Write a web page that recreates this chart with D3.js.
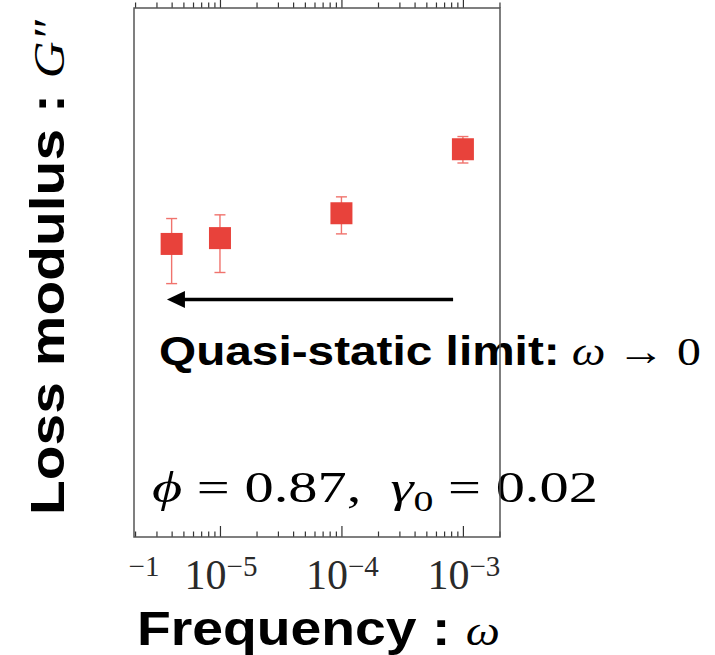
<!DOCTYPE html>
<html>
<head>
<meta charset="utf-8">
<script src="https://cdn.jsdelivr.net/npm/d3@7"></script>
<style>
  body { margin: 0; background: #fff; }
  svg { display: block; }
</style>
</head>
<body>
<div id="chart"></div>
<script>
// Loss modulus vs frequency (quasi-static limit)

const freq     = [4e-6, 1e-5, 1e-4, 1e-3]
const lossMod  = [55.4, 56.5, 61.2, 73.3]
const errLow   = [47.9, 50.0, 57.3, 70.7]
const errHigh  = [60.2, 60.9, 64.3, 75.7]
const majorExp = [-5, -4, -3]
const arrowFrom = {f: 8.3e-4, g: 44.9}
const arrowTo   = {f: 3.66e-6, g: 44.9}

const W = 715, H = 655
const box = {l: 134, r: 500, t: 8, b: 537}

const svg = d3.select("#chart").append("svg")
    .attr("width", W)
    .attr("height", H)
    .style("background", "#fff")

const x = d3.scaleLog().domain([1.96e-6, 2.02e-3]).range([box.l, box.r])
const y = d3.scaleLinear().domain([0, 100]).range([box.b, box.t])

const majors = majorExp.map(e => Math.pow(10, e))
const minors = x.ticks().filter(v => Math.abs(Math.log10(v) - Math.round(Math.log10(v))) > 1e-6)

// ticks, bottom and top, pointing inward
function tickAxis(axisFn, vals, len, yPos) {
    const g = svg.append("g")
        .attr("transform", "translate(0," + yPos + ")")
        .call(axisFn(x).tickValues(vals).tickSize(-len).tickFormat(""))
    g.select(".domain").remove()
    g.selectAll("line").attr("stroke", "#333").attr("stroke-width", 1.2)
}
tickAxis(d3.axisBottom, majors, 11, box.b)
tickAxis(d3.axisBottom, minors, 5.5, box.b)
tickAxis(d3.axisTop, majors, -11, box.t)
tickAxis(d3.axisTop, minors, -5.5, box.t)

// tick labels 10^n
const serif = "'Liberation Serif', 'DejaVu Serif', serif"
svg.append("g").selectAll("text")
    .data(majorExp).enter()
    .append("text")
    .attr("x", d => x(Math.pow(10, d)) + 1)
    .attr("y", 589)
    .attr("text-anchor", "middle")
    .style("font-family", serif)
    .style("font-size", "42px")
    .attr("fill", "#2a2a2a")
    .each(function(d) {
        const t = d3.select(this)
        t.append("tspan").text("10")
        t.append("tspan").attr("dy", -13).style("font-size", "29px").text("\u2212" + (-d))
    })

// stray clipped label at left edge
svg.append("text")
    .attr("x", 144).attr("y", 576)
    .attr("text-anchor", "middle")
    .style("font-family", serif)
    .style("font-size", "29px")
    .attr("fill", "#2a2a2a")
    .text("\u22121")

// error bars
const errCol = "#f0736d"
const bars = svg.append("g")
bars.selectAll("line.v")
    .data(freq).enter()
    .append("line")
    .attr("x1", d => x(d)).attr("x2", d => x(d))
    .attr("y1", (d, i) => y(errLow[i]))
    .attr("y2", (d, i) => y(errHigh[i]))
    .attr("stroke", errCol).attr("stroke-width", 1.4)
;[errLow, errHigh].forEach(arr => {
    bars.append("g").selectAll("line")
        .data(freq).enter()
        .append("line")
        .attr("x1", d => x(d) - 5.5).attr("x2", d => x(d) + 5.5)
        .attr("y1", (d, i) => y(arr[i]))
        .attr("y2", (d, i) => y(arr[i]))
        .attr("stroke", errCol).attr("stroke-width", 1.4)
})

// square markers
const sz = 22
svg.append("g").selectAll("rect")
    .data(freq).enter()
    .append("rect")
    .attr("x", d => x(d) - sz/2)
    .attr("y", (d, i) => y(lossMod[i]) - sz/2)
    .attr("width", sz).attr("height", sz)
    .attr("fill", "#e8423b")

// arrow toward omega -> 0
const ax0 = x(arrowFrom.f), ay = y(arrowFrom.g), ax1 = x(arrowTo.f)
svg.append("line")
    .attr("x1", ax0).attr("x2", ax1 + 14)
    .attr("y1", ay).attr("y2", ay)
    .attr("stroke", "#000").attr("stroke-width", 3.6)
svg.append("path")
    .attr("d", `M${ax1},${ay} L${ax1 + 18},${ay - 8.5} L${ax1 + 18},${ay + 8.5} Z`)
    .attr("fill", "#000")

const sans = "'Liberation Sans', Arial, sans-serif"

// stretch a text element horizontally so it spans [x0, x1]
function fitText(sel, x0, x1, baseY) {
    const w = sel.node().getComputedTextLength()
    const s = (x1 - x0) / w
    sel.attr("x", 0).attr("y", 0)
        .attr("transform", `translate(${x0},${baseY}) scale(${s},1)`)
}

// "Quasi-static limit: omega -> 0"
const q = svg.append("text").attr("fill", "#000").attr("xml:space", "preserve")
q.append("tspan").style("font-family", sans).style("font-weight", "bold")
    .style("font-size", "41px").text("Quasi-static limit:")
q.append("tspan").style("font-family", serif).style("font-size", "41px").text(" ")
q.append("tspan").style("font-family", serif).style("font-style", "italic")
    .style("font-size", "41px").text("\u03c9")
q.append("tspan").style("font-family", serif).style("font-size", "41px").text(" \u2192 0")
fitText(q, 159, 701, 365)

// phi = 0.87, gamma_0 = 0.02
const p = svg.append("text").attr("fill", "#000").attr("xml:space", "preserve")
    .style("font-family", serif).style("font-size", "44px")
p.append("tspan").style("font-style", "italic").text("\u03d5")
p.append("tspan").text(" = 0.87,  ")
p.append("tspan").style("font-style", "italic").text("\u03b3")
p.append("tspan").attr("dy", 9).style("font-size", "30px").text("0")
p.append("tspan").attr("dy", -9).text(" = 0.02")
fitText(p, 152, 598, 502)

// axis titles
const fx = svg.append("text").attr("fill", "#000").attr("xml:space", "preserve")
fx.append("tspan").style("font-family", sans).style("font-weight", "bold")
    .style("font-size", "48px").text("Frequency : ")
fx.append("tspan").style("font-family", serif).style("font-style", "italic")
    .style("font-size", "42px").text("\u03c9")
fitText(fx, 137, 500, 645)

const fy = svg.append("text").attr("fill", "#000").attr("xml:space", "preserve")
fy.append("tspan").style("font-family", sans).style("font-weight", "bold")
    .style("font-size", "49px").text("Loss modulus : ")
fy.append("tspan").style("font-family", serif).style("font-style", "italic")
    .style("font-size", "44px").text("G\u2033")
const wy = fy.node().getComputedTextLength()
fy.attr("x", 0).attr("y", 0)
    .attr("transform", `translate(64,515) rotate(-90) scale(${495 / wy},1)`)

// frame on top
svg.append("rect")
    .attr("x", box.l).attr("y", box.t)
    .attr("width", box.r - box.l).attr("height", box.b - box.t)
    .attr("fill", "none")
    .attr("stroke", "#555").attr("stroke-width", 1.5)
</script>
</body>
</html>
